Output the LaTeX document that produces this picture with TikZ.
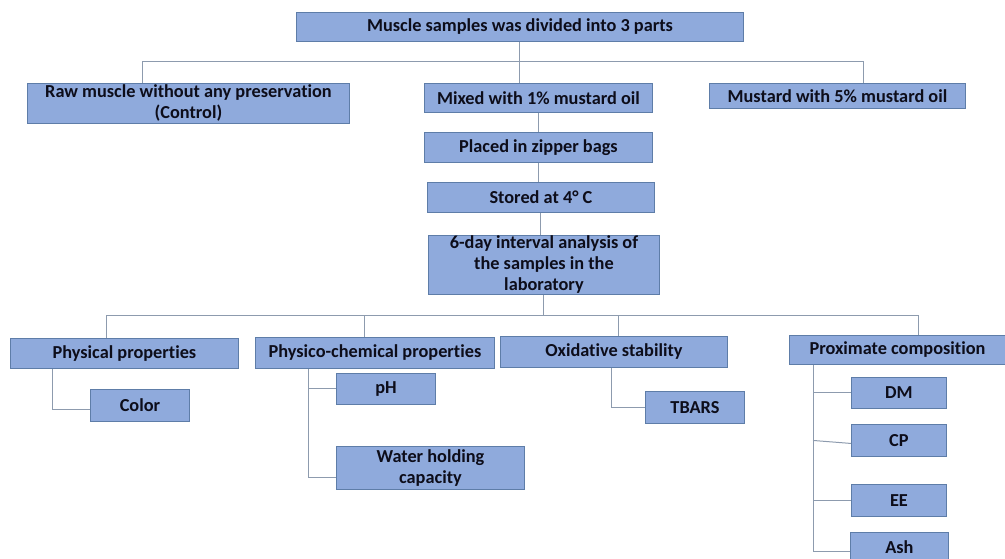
\documentclass[tikz,border=0pt]{standalone}
\usepackage{fontspec}
\setmainfont{Carlito}[Ligatures=NoCommon]
\definecolor{boxfill}{HTML}{8FAADC}
\definecolor{boxline}{HTML}{5E7DA8}
\definecolor{connline}{HTML}{8D9BAE}
\definecolor{txt}{HTML}{0D0D1A}
\begin{document}
\begin{tikzpicture}[x=1pt,y=-1pt,
  box/.style={draw=boxline,fill=boxfill,line width=0.9pt,anchor=north west,inner sep=0pt,
    font=\fontsize{18.3}{21}\selectfont\bfseries,text=txt,align=center},
  conn/.style={draw=connline,line width=1pt}]
\useasboundingbox (0,0) rectangle (1005,559);
% level 0
\node[box,minimum width=447,minimum height=29] (top) at (296,12) {Muscle samples was divided into 3 parts};
% level 1
\node[box,minimum width=322,minimum height=40] (raw) at (27,83) {Raw muscle without any preservation\\(Control)};
\node[box,minimum width=228,minimum height=29] (mix) at (424,83) {Mixed with 1\% mustard oil};
\node[box,minimum width=256,minimum height=25] (m5) at (709,83) {Mustard with 5\% mustard oil};
\node[box,minimum width=228,minimum height=30] (bag) at (424,132) {Placed in zipper bags};
\node[box,minimum width=227,minimum height=30] (sto) at (427,182) {Stored at 4° C};
\node[box,minimum width=231,minimum height=59] (ana) at (428,235) {6-day interval analysis of\\the samples in the\\laboratory};
% level 2
\node[box,minimum width=228,minimum height=30] (phy) at (10,338) {Physical properties};
\node[box,minimum width=239,minimum height=31] (pc) at (255,337) {Physico-chemical properties};
\node[box,minimum width=227,minimum height=31] (ox) at (500,336) {Oxidative stability};
\node[box,minimum width=216,minimum height=29] (pro) at (789,335) {Proximate composition};
% level 3
\node[box,minimum width=99,minimum height=32] (col) at (90,389) {Color};
\node[box,minimum width=99,minimum height=31] (ph) at (336,373) {pH};
\node[box,minimum width=188,minimum height=43] (whc) at (336,446) {Water holding\\capacity};
\node[box,minimum width=99,minimum height=32] (tba) at (645,391) {TBARS};
\node[box,minimum width=95,minimum height=31] (dm) at (851,377) {DM};
\node[box,minimum width=95,minimum height=32] (cp) at (851,424) {CP};
\node[box,minimum width=95,minimum height=32] (ee) at (851,484) {EE};
\node[box,minimum width=98,minimum height=29] (ash) at (850,532) {Ash};
% bus coordinates
\coordinate (b1l) at (142,62);
\coordinate (b1r) at (863,62);
\coordinate (b2a) at (106,315);
\coordinate (b2b) at (364,315);
\coordinate (b2c) at (618,315);
\coordinate (b2d) at (918,315);
% connectors level 0-1
\draw[conn] (top.south) -- (top.south |- mix.north);
\draw[conn] (b1l |- raw.north) -- (b1l) -- (b1r) -- (b1r |- m5.north);
\draw[conn] (mix.south) -- (bag.north);
\draw[conn] (bag.south) -- (bag.south |- sto.north);
\draw[conn] (sto.south) -- (sto.south |- ana.north);
\draw[conn] (ana.south) -- (ana.south |- b2a);
\draw[conn] (b2a) -- (b2d);
\draw[conn] (b2a) -- (b2a |- phy.north);
\draw[conn] (b2b) -- (b2b |- pc.north);
\draw[conn] (b2c) -- (b2c |- ox.north);
\draw[conn] (b2d) -- (b2d |- pro.north);
% sub-branches
\draw[conn] ([xshift=42]phy.south west) |- ([yshift=-4.5]col.west);
\draw[conn] ([xshift=53]pc.south west) |- (ph.west);
\draw[conn] ([xshift=53]pc.south west) |- ([yshift=-9.5]whc.west);
\draw[conn] ([xshift=111]ox.south west) |- (tba.west);
\draw[conn] ([xshift=24]pro.south west) |- ([yshift=-4.5]ash.west);
\draw[conn] ([xshift=24]pro.south west |- dm.west) -- (dm.west);
\draw[conn] ([xshift=24]pro.south west |- cp.west) -- ([yshift=-3]cp.west);
\draw[conn] ([xshift=24]pro.south west |- ee.west) -- (ee.west);
\end{tikzpicture}
\end{document}
